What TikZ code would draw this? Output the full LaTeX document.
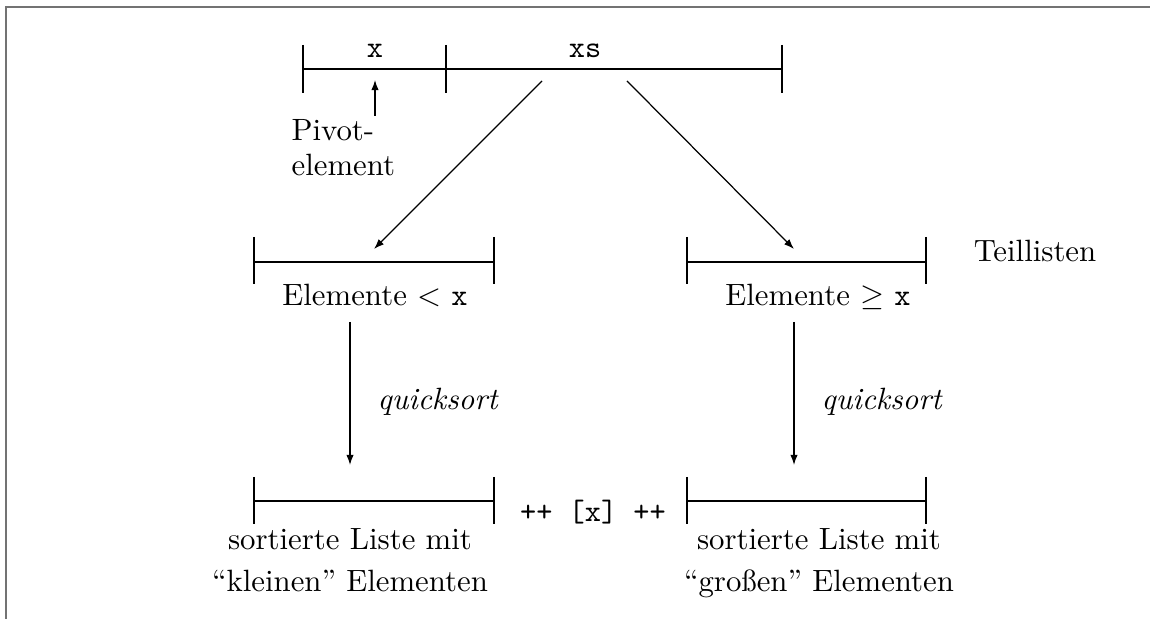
\documentclass[tikz,border=0pt]{standalone}
\usetikzlibrary{arrows.meta}
\begin{document}
\begin{tikzpicture}[x=0.3247pt,y=-0.3247pt,
  bar/.style={line width=0.4pt},
  arr/.style={line width=0.4pt,-{Latex[length=3.3pt,width=2.4pt]}},
  frame/.style={draw=black!55,line width=0.65pt},
  lbl/.style={inner sep=0pt,anchor=base,font={\fontsize{10}{13.8}\selectfont}},
  lbl2/.style={lbl,align=center}]
\useasboundingbox (0,0) rectangle (1150,619);
\draw[frame] (6,619) -- (6,7.5) -- (1150,7.5);
% top bar
\draw[bar] (303,45) -- (303,93) (446,45) -- (446,93) (782,45) -- (782,93) (303,69) -- (782,69);
\node[lbl] (x) at (375,58) {\texttt{x}};
\node[lbl] (xs) at (585,58) {\texttt{xs}};
\node[lbl,align=left,anchor=base west,font={\fontsize{10}{11.5}\selectfont}] (pivot) at (291,176) {Pivot-\\element};
\coordinate (pivs) at (375,116);
\coordinate (pive) at (375,80);
\draw[arr] (pivs) -- (pive);
% middle bars
\draw[bar] (254,237) -- (254,284) (494,237) -- (494,284) (254,262) -- (494,262);
\draw[bar] (687,237) -- (687,284) (926,237) -- (926,284) (687,262) -- (926,262);
\coordinate (dls) at (542,81);
\coordinate (dle) at (374,249);
\coordinate (drs) at (627,81);
\coordinate (dre) at (794,249);
\draw[arr] (dls) -- (dle);
\draw[arr] (drs) -- (dre);
\node[lbl] (el) at (375,306) {Elemente $<$ \texttt{x}};
\node[lbl] (er) at (818,306) {Elemente $\geq$ \texttt{x}};
\node[lbl] (tl) at (1035,262) {Teillisten};
% vertical arrows
\coordinate (vls) at (350,322);
\coordinate (vle) at (350,465);
\coordinate (vrs) at (794,322);
\coordinate (vre) at (794,465);
\draw[arr] (vls) -- (vle);
\draw[arr] (vrs) -- (vre);
\node[lbl,anchor=base west] (ql) at (377,410) {\textit{quicksort}};
\node[lbl,anchor=base west] (qr) at (821,410) {\textit{quicksort}};
% bottom bars
\draw[bar] (254,477) -- (254,524) (494,477) -- (494,524) (254,501) -- (494,501);
\draw[bar] (687,477) -- (687,524) (926,477) -- (926,524) (687,501) -- (926,501);
\node[lbl] (cat) at (593,522) {\texttt{++ [x] ++}};
\node[lbl2] (sl) at (350,592) {sortierte Liste mit\\``kleinen'' Elementen};
\node[lbl2] (sr) at (819,592) {sortierte Liste mit\\``großen'' Elementen};
\end{tikzpicture}
\end{document}
